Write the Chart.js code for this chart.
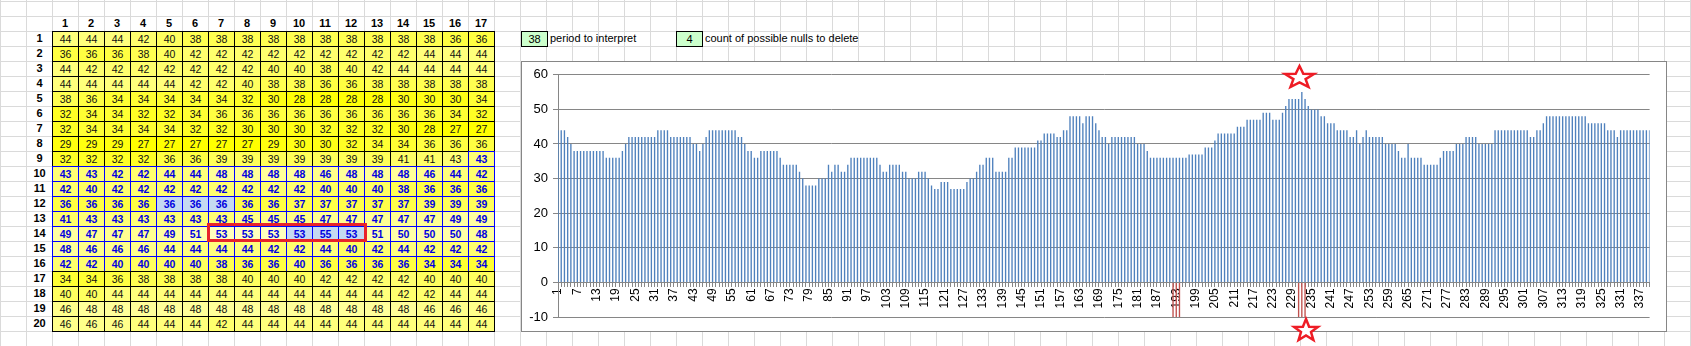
<!DOCTYPE html>
<html>
<head>
<meta charset="utf-8">
<script src="https://cdn.jsdelivr.net/npm/chart.js@4.4.0/dist/chart.umd.min.js"></script>
<style>
  html, body { margin: 0; padding: 0; }
  body {
    width: 1691px; height: 346px; overflow: hidden; position: relative; background: #fff;
    background-image: linear-gradient(to right, #dadada 1px, transparent 1px),
                      linear-gradient(to bottom, #dadada 1px, transparent 1px);
    background-size: 26px 15px;
    background-position: 0 1px;
    font-family: 'Liberation Sans', Arial, sans-serif;
  }
  .cell { position: absolute; box-sizing: border-box; width: 27px; height: 16px; border: 1px solid #000;
          text-align: center; font-size: 10.5px; line-height: 14px; color: #111; }
  .cell.blue { border-color: #0000ff; color: #0000e0; font-weight: bold; }
  .head { position: absolute; width: 26px; height: 15px; text-align: center; font-size: 11px;
          line-height: 15px; font-weight: bold; color: #000; }
  .note { position: absolute; font-size: 11px; line-height: 15px; color: #000; white-space: nowrap; }
  .inbox { position: absolute; box-sizing: border-box; width: 27px; height: 16px; border: 1px solid #000;
           background: #ccffcc; text-align: center; font-size: 11px; line-height: 14px; }
  #redbox { position: absolute; left: 207px; top: 223px; width: 160px; height: 19px; box-sizing: border-box;
            border: 3px solid #e8242a; }
  #chartBox { position: absolute; left: 521px; top: 61px; width: 1146px; height: 271px; box-sizing: border-box;
              border: 1px solid #868686; background: #fff; }
  #stars { position: absolute; left: 0; top: 0; }
</style>
</head>
<body>
<div id="sheet"></div>
<div class="inbox" style="left:521px; top:31px;">38</div>
<div class="note" style="left:550px; top:31px;">period to interpret</div>
<div class="inbox" style="left:676px; top:31px;">4</div>
<div class="note" style="left:705px; top:31px;">count of possible nulls to delete</div>
<div id="chartBox"><canvas id="barChart"></canvas></div>
<svg id="stars" width="1691" height="346"></svg>
<script>
// values of the sheet, 20 rows x 17 columns, read row by row into the chart
const tableRows = [
  [44, 44, 44, 42, 40, 38, 38, 38, 38, 38, 38, 38, 38, 38, 38, 36, 36],
  [36, 36, 36, 38, 40, 42, 42, 42, 42, 42, 42, 42, 42, 42, 44, 44, 44],
  [44, 42, 42, 42, 42, 42, 42, 42, 40, 40, 38, 40, 42, 44, 44, 44, 44],
  [44, 44, 44, 44, 44, 42, 42, 40, 38, 38, 36, 36, 38, 38, 38, 38, 38],
  [38, 36, 34, 34, 34, 34, 34, 32, 30, 28, 28, 28, 28, 30, 30, 30, 34],
  [32, 34, 34, 32, 32, 34, 36, 36, 36, 36, 36, 36, 36, 36, 36, 34, 32],
  [32, 34, 34, 34, 34, 32, 32, 30, 30, 30, 32, 32, 32, 30, 28, 27, 27],
  [29, 29, 29, 27, 27, 27, 27, 27, 29, 30, 30, 32, 34, 34, 36, 36, 36],
  [32, 32, 32, 32, 36, 36, 39, 39, 39, 39, 39, 39, 39, 41, 41, 43, 43],
  [43, 43, 42, 42, 44, 44, 48, 48, 48, 48, 46, 48, 48, 48, 46, 44, 42],
  [42, 40, 42, 42, 42, 42, 42, 42, 42, 42, 40, 40, 40, 38, 36, 36, 36],
  [36, 36, 36, 36, 36, 36, 36, 36, 36, 37, 37, 37, 37, 37, 39, 39, 39],
  [41, 43, 43, 43, 43, 43, 43, 45, 45, 45, 47, 47, 47, 47, 47, 49, 49],
  [49, 47, 47, 47, 49, 51, 53, 53, 53, 53, 55, 53, 51, 50, 50, 50, 48],
  [48, 46, 46, 46, 44, 44, 44, 44, 42, 42, 44, 40, 42, 44, 42, 42, 42],
  [42, 42, 40, 40, 40, 40, 38, 36, 36, 40, 36, 36, 36, 36, 34, 34, 34],
  [34, 34, 36, 38, 38, 38, 38, 40, 40, 40, 42, 42, 42, 42, 40, 40, 40],
  [40, 40, 44, 44, 44, 44, 44, 44, 44, 44, 44, 44, 44, 42, 42, 44, 44],
  [46, 48, 48, 48, 48, 48, 48, 48, 48, 48, 48, 48, 48, 48, 46, 46, 46],
  [46, 46, 46, 44, 44, 44, 42, 44, 44, 44, 44, 44, 44, 44, 44, 44, 44]
];
// positions (1-based) marked as possible nulls, drawn as red bars
const nullPositions = [192, 193, 194, 231, 232, 233];
const nullValue = -10;
// cells with the blue frame (1-based positions)
const blueFrom = 153, blueTo = 272;
const labelStep = 6;

const values = tableRows.flat();
const labels = values.map((v, i) => String(i + 1));
const nullData = values.map((v, i) => nullPositions.includes(i + 1) ? nullValue : null);

// ---- the sheet table ----
const sheet = document.getElementById('sheet');
const vMin = Math.min(...values), vMax = Math.max(...values);
function fillFor(v) {
  const t = (v - vMin) / (vMax - vMin);
  const b = Math.round(t * 205);
  return 'rgb(255,255,' + b + ')';
}
for (let c = 0; c < 17; c++) {
  const h = document.createElement('div');
  h.className = 'head';
  h.style.left = (52 + c * 26) + 'px';
  h.style.top = '16px';
  h.textContent = c + 1;
  sheet.appendChild(h);
}
tableRows.forEach((row, r) => {
  const h = document.createElement('div');
  h.className = 'head';
  h.style.left = '27px';
  h.style.width = '25px';
  h.style.top = (31 + r * 15) + 'px';
  h.textContent = r + 1;
  sheet.appendChild(h);
  row.forEach((v, c) => {
    const pos = r * 17 + c + 1;
    const d = document.createElement('div');
    d.className = 'cell' + (pos >= blueFrom && pos <= blueTo ? ' blue' : '');
    d.style.left = (52 + c * 26) + 'px';
    d.style.top = (31 + r * 15) + 'px';
    d.style.background = nullPositions.includes(pos) ? '#c5d9f1' : fillFor(v);
    d.textContent = v;
    sheet.appendChild(d);
  });
});
const rb = document.createElement('div');
rb.id = 'redbox';
sheet.appendChild(rb);

// ---- stars ----
function starPoints(x0, y0, w, h) {
  const pts = [];
  for (let k = 0; k < 10; k++) {
    const r = k % 2 === 0 ? 1 : 0.42;
    const a = (-90 + k * 36) * Math.PI / 180;
    const px = (r * Math.cos(a) + 0.951) / 1.902;
    const py = (r * Math.sin(a) + 1) / 1.809;
    pts.push((x0 + px * w).toFixed(1) + ',' + (y0 + py * h).toFixed(1));
  }
  return pts.join(' ');
}
const svg = document.getElementById('stars');
[[1285, 66, 29, 21], [1294, 319, 24, 21]].forEach(s => {
  const p = document.createElementNS('http://www.w3.org/2000/svg', 'polygon');
  p.setAttribute('points', starPoints(s[0], s[1], s[2], s[3]));
  p.setAttribute('fill', '#fff');
  p.setAttribute('stroke', '#ee1c25');
  p.setAttribute('stroke-width', '2.5');
  svg.appendChild(p);
});

// ---- chart ----
const ctx = document.getElementById('barChart').getContext('2d');
const barChart = new Chart(ctx, {
  type: 'bar',
  data: {
    labels: labels,
    datasets: [
      {
        label: 'values',
        data: values,
        backgroundColor: '#4f81bd',
        barPercentage: 0.42,
        categoryPercentage: 1,
        grouped: false
      },
      {
        label: 'nulls',
        data: nullData,
        backgroundColor: '#c0504d',
        barPercentage: 0.42,
        categoryPercentage: 1,
        grouped: false
      }
    ]
  },
  options: {
    responsive: true,
    maintainAspectRatio: false,
    animation: false,
    layout: { padding: { left: 6, top: 12, right: 14, bottom: 14 } },
    plugins: { legend: { display: false }, tooltip: { enabled: false } },
    scales: {
      x: {
        position: { y: 0 },
        offset: false,
        afterFit: function(scale) { scale.height = 0; },
        grid: { drawOnChartArea: false, offset: false, tickLength: 4, color: '#868686' },
        border: { color: '#868686' },
        ticks: {
          autoSkip: false,
          maxRotation: 90,
          minRotation: 90,
          padding: 2,
          color: '#000',
          font: { family: 'Liberation Sans', size: 12 },
          callback: function(v, i) { return i % labelStep === 0 ? labels[i] : ''; }
        }
      },
      y: {
        min: -10,
        max: 60,
        afterFit: function(scale) { scale.width = 30; },
        grid: { color: '#868686', tickLength: 5 },
        border: { color: '#868686' },
        ticks: {
          stepSize: 10,
          padding: 5,
          color: '#000',
          font: { family: 'Liberation Sans', size: 13 }
        }
      }
    }
  }
});
</script>
</body>
</html>
